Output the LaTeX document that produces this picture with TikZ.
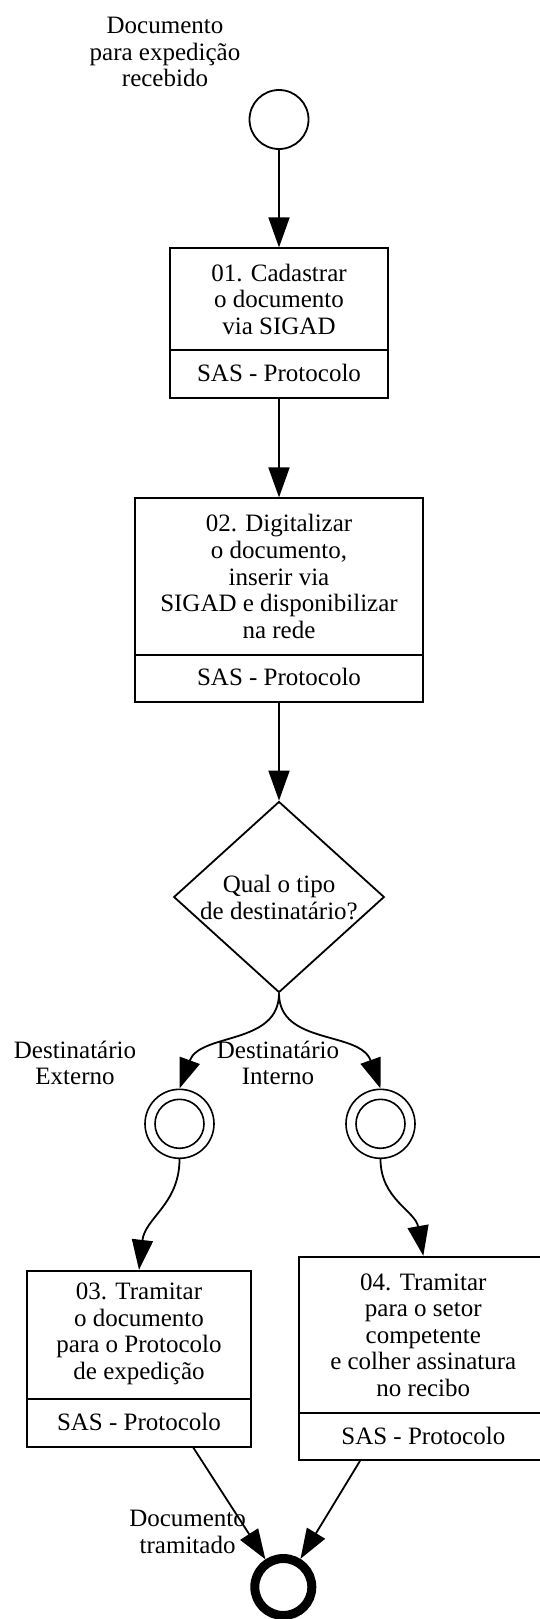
\documentclass[tikz,border=0pt]{standalone}
\usepackage{fontspec}
\setmainfont{Liberation Serif}
\usetikzlibrary{shapes.geometric,arrows.meta,calc}
\begin{document}
\begin{tikzpicture}[x=1pt,y=-1pt,
  lw/.style={line width=1.8pt},
  txt/.style={font=\fontsize{25}{26.6}\selectfont, align=center, inner sep=0pt},
  taskbox/.style={draw, lw, rectangle, inner sep=0pt},
  evstart/.style={draw, lw, circle, inner sep=0pt, minimum size=59pt},
  evmid/.style={draw, line width=1.6pt, circle, inner sep=0pt, minimum size=69pt},
  evend/.style={draw, line width=9pt, circle, inner sep=0pt, minimum size=57pt},
  gate/.style={draw, lw, diamond, inner sep=0pt, minimum width=210.6pt, minimum height=191pt},
  flow/.style={lw, -{Triangle[length=30pt,width=21pt]}},
]
\fill[white] (0,0) rectangle (540,1619);
\useasboundingbox (0,0) rectangle (540,1619);

% start event
\node[evstart] (s) at (279,119.5) {};
\node[txt] (ls) at (165,52) {Documento\\para expedição\\recebido};

% task 01
\node[taskbox, minimum width=217.7pt, minimum height=149.4pt] (b1) at (279,323) {};
\draw[lw] ($(b1.south west)+(0,-48.4)$) -- ($(b1.south east)+(0,-48.4)$);
\node[txt] (t1) at (279,299.3) {01. Cadastrar\\o documento\\via SIGAD};
\node[txt] (r1) at (279,372.7) {SAS - Protocolo};

% task 02
\node[taskbox, minimum width=287.3pt, minimum height=204pt] (b2) at (279,600.3) {};
\draw[lw] ($(b2.south west)+(0,-48.3)$) -- ($(b2.south east)+(0,-48.3)$);
\node[txt] (t2) at (279,576.5) {02. Digitalizar\\o documento,\\inserir via\\SIGAD e disponibilizar\\na rede};
\node[txt] (r2) at (279,676.7) {SAS - Protocolo};

% gateway
\node[gate] (g) at (279,897) {};
\node[txt] (tg) at (279,897.5) {Qual o tipo\\de destinatário?};

% intermediate events
\node[evmid] (e1) at (179.5,1123.8) {};
\draw[line width=1.6pt] (e1.center) circle[radius=24.5pt];
\node[evmid] (e2) at (380.5,1123.8) {};
\draw[line width=1.6pt] (e2.center) circle[radius=24.5pt];
\node[txt] (le1) at (75,1063) {Destinatário\\Externo};
\node[txt] (le2) at (278,1063) {Destinatário\\Interno};

% task 03
\node[taskbox, minimum width=223.4pt, minimum height=176pt] (b3) at (139,1358.7) {};
\draw[lw] ($(b3.south west)+(0,-48.4)$) -- ($(b3.south east)+(0,-48.4)$);
\node[txt] (t3) at (139,1334) {03. Tramitar\\o documento\\para o Protocolo\\de expedição};
\node[txt] (r3) at (139,1421.7) {SAS - Protocolo};

% task 04
\node[taskbox, minimum width=248pt, minimum height=203.3pt] (b4) at (423.3,1358.35) {};
\draw[lw] ($(b4.south west)+(0,-47.7)$) -- ($(b4.south east)+(0,-47.7)$);
\node[txt] (t4) at (423.3,1335) {04. Tramitar\\para o setor\\competente\\e colher assinatura\\no recibo};
\node[txt] (r4) at (423.3,1436) {SAS - Protocolo};

% end event
\node[evend] (fin) at (283.3,1587) {};
\node[txt] (lf) at (187.6,1532) {Documento\\tramitado};

% flows
\draw[flow] (s) -- (b1);
\draw[flow] (b1) -- (b2);
\draw[flow] (b2) -- (g);
\draw[flow] (g.south) .. controls +(0,52) and +(20.5,-56) .. (e1.north);
\draw[flow] (g.south) .. controls +(0,52) and +(-20.5,-58) .. (e2.north);
\draw[flow] (e1.south) .. controls +(0,45) and +(6,-52) .. (b3.north);
\draw[flow] (e2.south) .. controls +(0,40) and +(-8,-45) .. (b4.north);
\draw[flow] ([xshift=54.3pt]b3.south) -- (fin);
\draw[flow] ([xshift=-63.3pt]b4.south) -- (fin);
\end{tikzpicture}
\end{document}
